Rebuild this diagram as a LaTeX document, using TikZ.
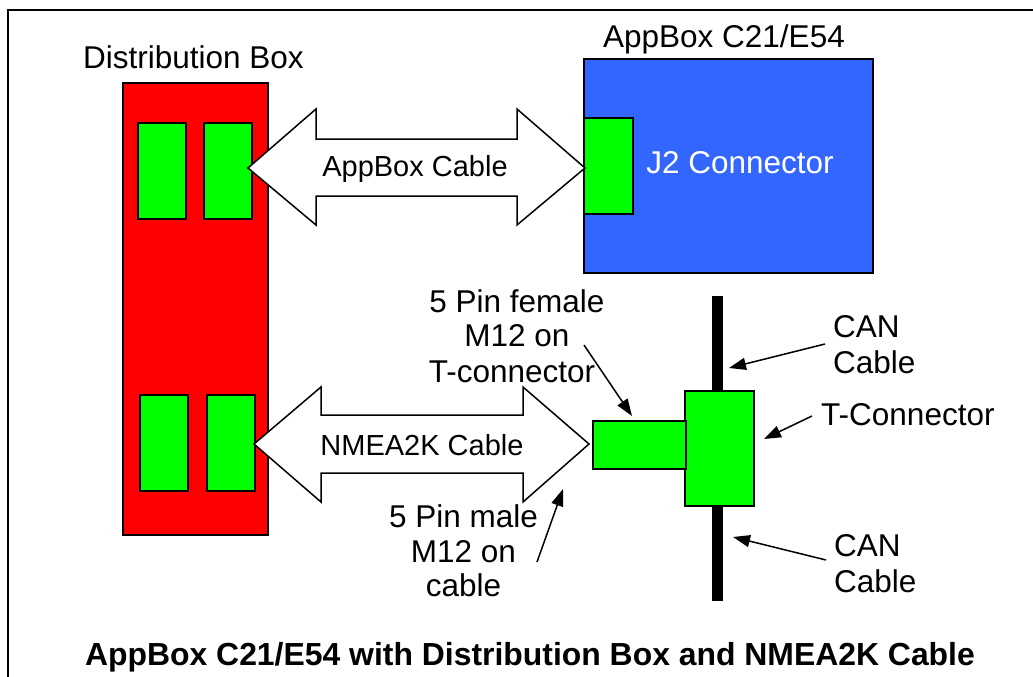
\documentclass[tikz,border=0pt]{standalone}
\usepackage{fontspec}
\setmainfont{Liberation Sans}
\usetikzlibrary{arrows.meta}
\definecolor{dred}{HTML}{FF0000}
\definecolor{dgreen}{HTML}{00FF00}
\definecolor{dblue}{HTML}{3366FF}
\newcommand{\fsz}[1]{\fontsize{#1}{#1}\selectfont}
\tikzset{
  box/.style={draw=black, line width=1.6pt, inner sep=0pt, outer sep=0pt, anchor=north west},
  lbl/.style={anchor=base, inner sep=0pt, font=\fsz{31.5}},
  lbll/.style={anchor=base west, inner sep=0pt, font=\fsz{31.5}},
  cbl/.style={anchor=base, inner sep=0pt, font=\fsz{29}},
  ptr/.style={line width=1.5pt, -{Triangle[length=17pt,width=12pt]}},
  bigarrow/.style={draw=black, fill=white, line width=1.5pt, line join=miter}
}
\begin{document}
\begin{tikzpicture}[x=1pt,y=-1pt]
\useasboundingbox (0,0) rectangle (1033,677);
% frame
\draw[line width=2.2pt] (8,677) -- (8,10) -- (1033,10);
% distribution box
\node[box, fill=dred, minimum width=145pt, minimum height=452pt] (dbox) at (123,83) {};
\node[box, fill=dgreen, minimum width=48pt, minimum height=96pt] (g1) at (138,123) {};
\node[box, fill=dgreen, minimum width=48pt, minimum height=96pt] (g2) at (204,123) {};
\node[box, fill=dgreen, minimum width=48pt, minimum height=96pt] (g3) at (140,395) {};
\node[box, fill=dgreen, minimum width=48pt, minimum height=96pt] (g4) at (207,395) {};
\node[lbl] (dlabel) at (193.5,69) {Distribution Box};
% appbox
\node[box, fill=dblue, minimum width=289pt, minimum height=214pt] (appbox) at (584,59) {};
\node[box, fill=dgreen, minimum width=49pt, minimum height=96pt] (j2) at (584,118) {};
\node[lbl] (alabel) at (724,48) {AppBox C21/E54};
\node[lbl, text=white] (j2label) at (740,173) {J2 Connector};
% appbox cable
\draw[bigarrow] (248,168) -- (316,109) -- (316,139) -- (517,139) -- (517,109) -- (585,168)
  -- (517,225) -- (517,196) -- (316,196) -- (316,225) -- cycle;
\node[cbl] (acable) at (415,176) {AppBox Cable};
% nmea cable
\draw[bigarrow] (254,444) -- (321,387) -- (321,415) -- (523,415) -- (523,387) -- (589,444)
  -- (523,502) -- (523,473) -- (321,473) -- (321,502) -- cycle;
\node[cbl] (ncable) at (422,455) {NMEA2K Cable};
% CAN cable and T connector
\node[box, draw=none, fill=black, minimum width=11pt, minimum height=305pt] (can) at (712,296) {};
\node[box, fill=dgreen, minimum width=69pt, minimum height=115pt] (tconn) at (685,391) {};
\node[box, fill=dgreen, minimum width=93pt, minimum height=48pt] (female) at (593,421) {};
% labels
\node[lbl] (f1) at (517,312) {5 Pin female};
\node[lbl] (f2) at (517,346) {M12 on};
\node[lbl] (f3) at (512,382) {T-connector};
\node[lbl] (m1) at (463.5,527) {5 Pin male};
\node[lbl] (m2) at (463.5,562) {M12 on};
\node[lbl] (m3) at (463.5,596) {cable};
\node[lbll] (c1) at (833,337) {CAN};
\node[lbll] (c2) at (833,373) {Cable};
\node[lbll] (tl) at (821,425) {T-Connector};
\node[lbll] (c3) at (834,556) {CAN};
\node[lbll] (c4) at (834,592) {Cable};
% pointer ends
\coordinate (pf0) at (584,345); \coordinate (pf1) at (632,416);
\coordinate (pm0) at (537,562); \coordinate (pm1) at (563,489);
\coordinate (pc0) at (825,344); \coordinate (pc1) at (729,368);
\coordinate (pt0) at (812,416); \coordinate (pt1) at (764,439);
\coordinate (pd0) at (826,560); \coordinate (pd1) at (733,537);
\draw[ptr] (pf0) -- (pf1);
\draw[ptr] (pm0) -- (pm1);
\draw[ptr] (pc0) -- (pc1);
\draw[ptr] (pt0) -- (pt1);
\draw[ptr] (pd0) -- (pd1);
% title
\node[anchor=base, inner sep=0pt, font=\fsz{31.9}\bfseries] (title) at (530,665) {AppBox C21/E54 with Distribution Box and NMEA2K Cable};
\end{tikzpicture}
\end{document}
